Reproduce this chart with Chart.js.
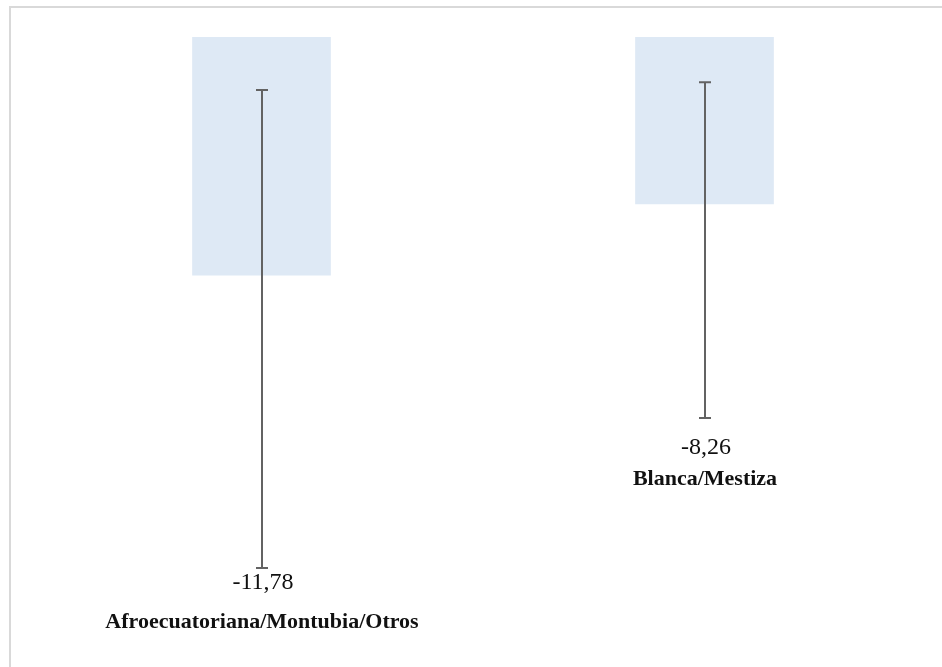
<!DOCTYPE html>
<html>
<head>
<meta charset="utf-8">
<script src="https://cdn.jsdelivr.net/npm/chart.js@4/dist/chart.umd.min.js"></script>
<style>
  html, body { margin: 0; padding: 0; background: #fff; overflow: hidden; }
  #wrap { position: relative; width: 942px; height: 667px; }
  /* chart frame, clipped by the window on the right and bottom */
  #frame {
    position: absolute; left: 9px; top: 6px; width: 1000px; height: 1000px;
    border-left: 2px solid #d9d9d9; border-top: 2px solid #d9d9d9;
  }
  canvas { position: absolute; left: 0; top: 0; }
</style>
</head>
<body>
<div id="wrap">
  <div id="frame"></div>
  <canvas id="gapChart" width="942" height="667"></canvas>
</div>
<script>
// Categories and values
const categories = ["Afroecuatoriana/Montubia/Otros", "Blanca/Mestiza"];
const gapValues = [-11.78, -8.26];
// Confidence interval ends (upper, lower)
const ciUpper = [-2.62, -2.24];
const ciLower = [-26.22, -18.81];

const fmtComma = (v) => v.toFixed(2).replace(".", ",");

// Draws the error bars plus the value and category labels under each bar
const errorBarPlugin = {
  id: "errorBars",
  afterDatasetsDraw(chart, args, opts) {
    const { ctx } = chart;
    const y = chart.scales.y;
    const meta = chart.getDatasetMeta(0);
    ctx.save();
    meta.data.forEach((bar, i) => {
      const x = Math.round(bar.x);
      const yTop = y.getPixelForValue(ciUpper[i]);
      const yBot = y.getPixelForValue(ciLower[i]);

      ctx.strokeStyle = "#636363";
      ctx.lineWidth = 2;
      ctx.beginPath();
      ctx.moveTo(x, yTop);
      ctx.lineTo(x, yBot);
      ctx.moveTo(x - 6, yTop);
      ctx.lineTo(x + 6, yTop);
      ctx.moveTo(x - 6, yBot);
      ctx.lineTo(x + 6, yBot);
      ctx.stroke();

      const valueBase = yBot + opts.valueOffset[i];
      ctx.fillStyle = "#111";
      ctx.textAlign = "center";
      ctx.textBaseline = "alphabetic";
      ctx.font = "24px 'Liberation Serif', serif";
      ctx.fillText(fmtComma(gapValues[i]), x + 1, valueBase);

      ctx.font = "bold 22px 'Liberation Serif', serif";
      ctx.fillText(categories[i], x, valueBase + opts.categoryOffset[i]);
    });
    ctx.restore();
  },
};

new Chart(document.getElementById("gapChart"), {
  type: "bar",
  data: {
    labels: categories,
    datasets: [
      {
        data: gapValues,
        backgroundColor: "#dee9f5",
        borderWidth: 0,
        categoryPercentage: 1,
        barPercentage: 0.313,
      },
    ],
  },
  options: {
    responsive: false,
    animation: false,
    layout: { padding: { top: 37, left: 40, right: 16, bottom: 22.5 } },
    plugins: {
      legend: { display: false },
      tooltip: { enabled: false },
      errorBars: { valueOffset: [21, 36], categoryOffset: [39, 31] },
    },
    scales: {
      x: { display: false },
      y: { display: false, min: -30, max: 0 },
    },
  },
  plugins: [errorBarPlugin],
});
</script>
</body>
</html>
